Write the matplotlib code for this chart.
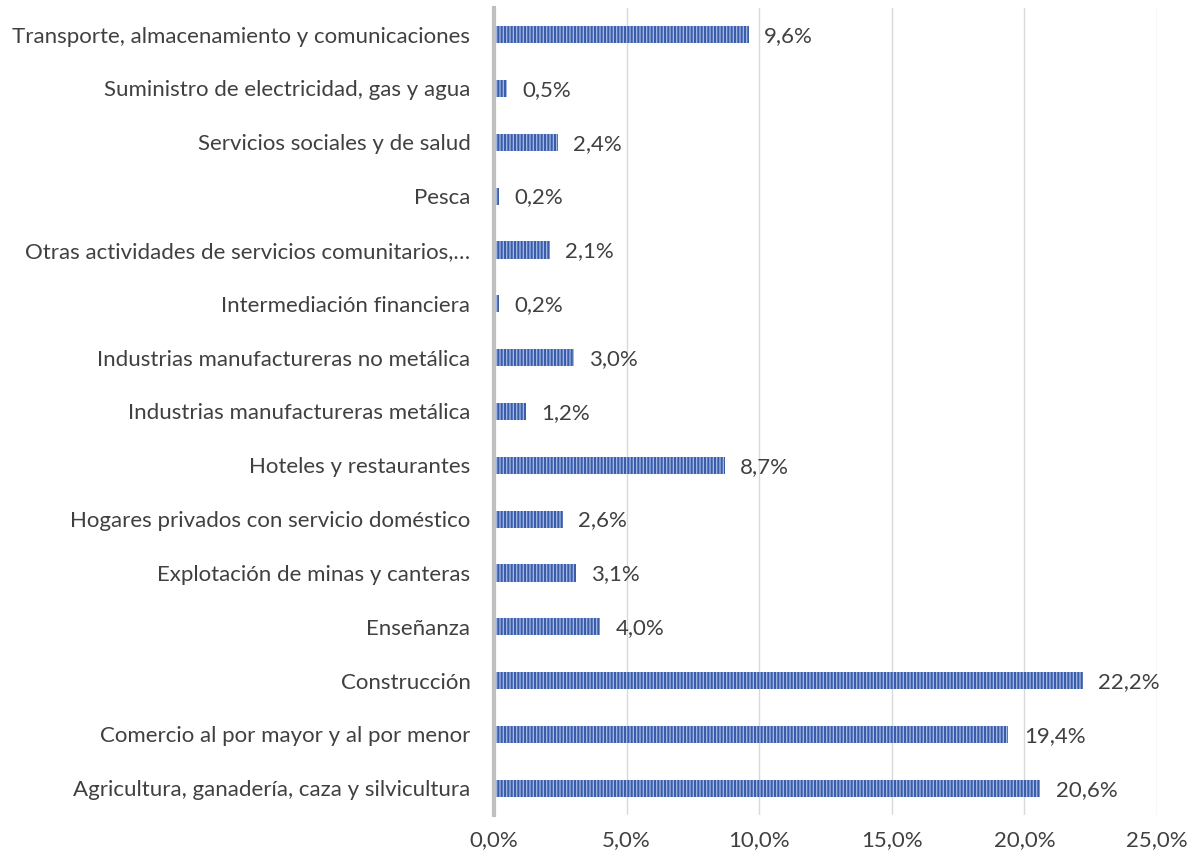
import matplotlib.pyplot as plt
import matplotlib.ticker as mticker

# categories from bottom to top
categorias = [
    "Agricultura, ganadería, caza y silvicultura",
    "Comercio al por mayor y al por menor",
    "Construcción",
    "Enseñanza",
    "Explotación de minas y canteras",
    "Hogares privados con servicio doméstico",
    "Hoteles y restaurantes",
    "Industrias manufactureras metálica",
    "Industrias manufactureras no metálica",
    "Intermediación financiera",
    "Otras actividades de servicios comunitarios,…",
    "Pesca",
    "Servicios sociales y de salud",
    "Suministro de electricidad, gas y agua",
    "Transporte, almacenamiento y comunicaciones",
]
valores = [20.6, 19.4, 22.2, 4.0, 3.1, 2.6, 8.7, 1.2, 3.0, 0.2, 2.1, 0.2, 2.4, 0.5, 9.6]
ticks_x = [0, 5, 10, 15, 20, 25]

plt.rcParams['font.family'] = ['Lato', 'DejaVu Sans']
plt.rcParams['hatch.linewidth'] = 1.5
texto = '#404040'
fs = 16

fig = plt.figure(figsize=(12.02, 8.59), dpi=100)
ax = fig.add_axes([0.411, 0.051, 0.5515, 0.94])

y = range(len(categorias))
ax.barh(y, valores, height=0.32, color='#a7bbe6', edgecolor='#3a5daa',
        linewidth=0, hatch='|||||', zorder=3)

for yi, v in zip(y, valores):
    ax.annotate(f"{v:.1f}%".replace('.', ','), (v, yi), xytext=(11, -1),
                textcoords='offset points', va='center', ha='left',
                fontsize=fs, color=texto)

ax.set_xlim(0, 25)
ax.set_ylim(-0.5, len(categorias) - 0.5)
ax.set_xticks(ticks_x)
ax.xaxis.set_major_formatter(mticker.FuncFormatter(lambda v, p: f"{v:.1f}%".replace('.', ',')))
ax.set_yticks(list(y))
ax.set_yticklabels(categorias)
ax.tick_params(axis='both', length=0, labelsize=fs, labelcolor=texto)
ax.tick_params(axis='y', pad=17)
ax.tick_params(axis='x', pad=11)

ax.grid(axis='x', color='#d9d9d9', linewidth=1, zorder=0)
for s in ['top', 'right', 'bottom']:
    ax.spines[s].set_visible(False)
ax.spines['left'].set_color('#bfbfbf')
ax.spines['left'].set_linewidth(3)
ax.spines['left'].set_zorder(4)

fig.savefig('out.png', dpi=100)
